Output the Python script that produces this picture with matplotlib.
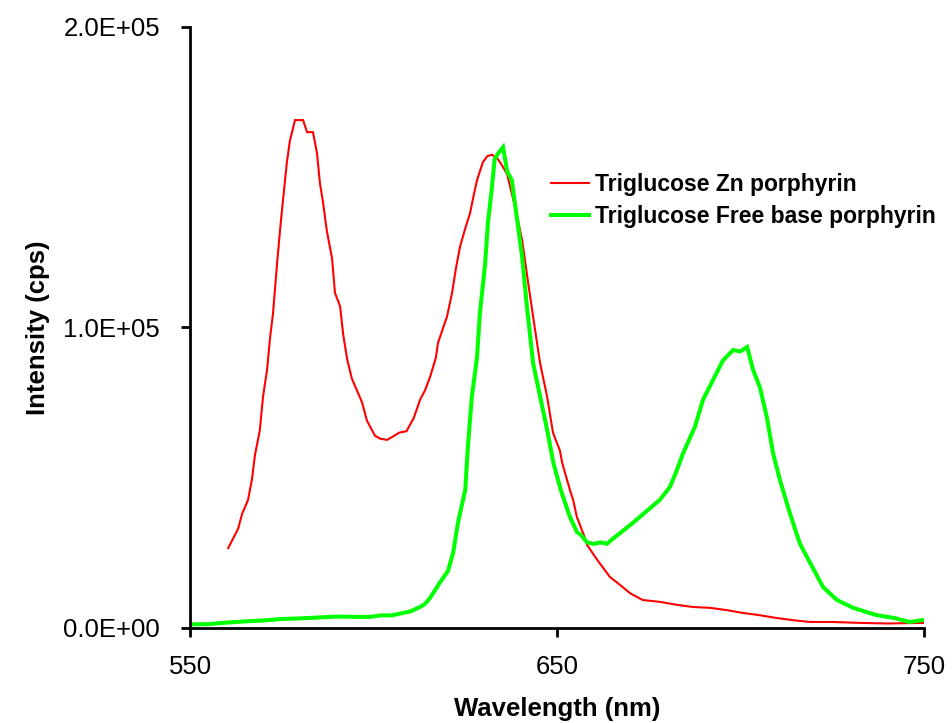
import matplotlib
matplotlib.use("Agg")
import matplotlib.pyplot as plt
from matplotlib.ticker import FixedLocator, FixedFormatter

# Emission spectrum of the Zn porphyrin (wavelength nm, intensity cps)
zn_wavelength = [
    560.4, 563.1, 564.2, 565.8, 566.9, 567.7, 569.0, 569.9, 571.0, 571.8,
    572.6, 573.7, 574.5, 575.3, 576.4, 577.2, 578.6, 580.8, 581.9, 583.5,
    584.6, 585.4, 586.2, 587.3, 588.7, 589.5, 590.9, 591.7, 592.8, 594.1,
    595.5, 596.9, 598.2, 600.4, 601.8, 603.7, 605.0, 607.0, 609.0, 611.0,
    612.7, 614.0, 615.4, 617.0, 617.6, 619.0, 620.0, 621.4, 622.5, 623.6,
    625.0, 626.3, 627.3, 628.2, 629.8, 631.0, 632.3, 633.9, 635.0, 636.4,
    638.0, 639.3, 640.5, 642.0, 643.5, 645.4, 647.3, 648.9, 650.8, 651.4,
    653.5, 654.4, 655.4, 657.6, 658.2, 661.0, 664.4, 667.2, 670.0, 673.4,
    678.0, 682.7, 687.0, 691.7, 696.0, 700.7, 705.0, 710.0, 715.0, 719.0,
    725.0, 732.6, 740.0, 750.0,
]
zn_intensity = [
    26600, 33000, 38000, 42600, 49600, 57600, 65600, 77000, 86000, 96500,
    104500, 121000, 132000, 142000, 155000, 162000, 169000, 169000, 165000, 165000,
    158000, 148000, 142000, 132000, 123000, 111500, 107000, 98000, 89500, 83000,
    79000, 75000, 69000, 64000, 63000, 62600, 63500, 65000, 65500, 70000,
    76000, 79000, 83500, 90000, 95000, 100000, 103500, 111500, 120000, 127000,
    133000, 138000, 144000, 149000, 155000, 157000, 157500, 156000, 154000, 151000,
    143000, 136000, 129000, 116000, 103500, 88000, 77000, 65000, 59000, 55000,
    46000, 42600, 37000, 30000, 27600, 22600, 17000, 14300, 11500, 9300,
    8700, 7700, 7000, 6700, 6000, 5000, 4300, 3300, 2500, 2000,
    2000, 1700, 1500, 1700,
]

# Emission spectrum of the free base porphyrin
fb_wavelength = [
    550.0, 555.0, 560.0, 565.0, 570.0, 575.0, 580.0, 585.0, 590.0, 595.0,
    599.0, 602.0, 605.0, 608.0, 610.0, 612.7, 614.0, 615.4, 617.0, 618.0,
    620.3, 621.7, 623.0, 625.0, 625.7, 626.8, 628.2, 629.0, 630.4, 631.2,
    632.3, 633.0, 634.0, 635.3, 636.4, 637.7, 639.0, 640.5, 641.8, 643.5,
    645.4, 647.3, 649.0, 651.0, 653.5, 655.4, 656.5, 658.2, 660.0, 662.0,
    663.6, 665.0, 667.2, 670.7, 674.5, 678.0, 680.8, 682.5, 684.3, 687.6,
    689.8, 692.5, 695.2, 698.0, 699.9, 701.8, 703.4, 705.3, 707.2, 708.9,
    710.8, 713.5, 716.2, 719.0, 722.5, 726.3, 730.7, 737.0, 742.0, 746.0,
    750.0,
]
fb_intensity = [
    1200, 1300, 1800, 2200, 2500, 3000, 3200, 3500, 3800, 3700,
    3700, 4200, 4200, 5000, 5500, 7000, 8000, 10000, 13000, 15000,
    19000, 25000, 35000, 46000, 60000, 77000, 90000, 105000, 121000, 135000,
    147000, 156000, 158000, 160000, 152000, 149000, 137000, 123500, 107000, 88000,
    77000, 66000, 55000, 46000, 37000, 32000, 31000, 28500, 28000, 28500,
    28000, 29500, 31600, 35000, 39000, 42600, 47000, 52000, 58000, 67000,
    76000, 82500, 89000, 92500, 92000, 93500, 86000, 80000, 70000, 58000,
    49000, 38000, 28000, 21600, 13600, 9300, 6700, 4300, 3300, 2000,
    2700,
]

x_ticks = [550, 650, 750]
x_tick_labels = ["550", "650", "750"]
y_ticks = [0, 100000, 200000]
y_tick_labels = ["0.0E+00", "1.0E+05", "2.0E+05"]

series_labels = ["Triglucose Zn porphyrin", "Triglucose Free base porphyrin"]

plt.rcParams["font.family"] = ["Liberation Sans", "DejaVu Sans"]

fig = plt.figure(figsize=(9.52, 7.23), dpi=100)
ax = fig.add_axes([0.1996, 0.1314, 0.7710, 0.8313])

ax.plot(zn_wavelength, zn_intensity, color="#FF0000", lw=1.5,
        label=series_labels[0], solid_joinstyle="miter")
ax.plot(fb_wavelength, fb_intensity, color="#00FF00", lw=2.9,
        label=series_labels[1], solid_joinstyle="miter")

ax.set_xlim(550, 750)
ax.set_ylim(0, 200000)

ax.xaxis.set_major_locator(FixedLocator(x_ticks))
ax.xaxis.set_major_formatter(FixedFormatter(x_tick_labels))
ax.yaxis.set_major_locator(FixedLocator(y_ticks))
ax.yaxis.set_major_formatter(FixedFormatter(y_tick_labels))

for side in ("top", "right"):
    ax.spines[side].set_visible(False)
for side in ("left", "bottom"):
    ax.spines[side].set_linewidth(2.0)
    ax.spines[side].set_color("black")

ax.tick_params(axis="both", direction="out", length=6.5, width=2.0,
               colors="black", labelsize=18.5)
ax.tick_params(axis="x", pad=13)
ax.tick_params(axis="y", pad=15)

ax.set_xlabel("Wavelength (nm)", fontsize=18.5, fontweight="bold", labelpad=13)
ax.set_ylabel("Intensity (cps)", fontsize=18.5, fontweight="bold", labelpad=10)

leg = ax.legend(loc="upper left", bbox_to_anchor=(0.492, 0.757), frameon=False,
                prop={"weight": "bold", "size": 16.5}, handlelength=1.65,
                handletextpad=0.25, labelspacing=0.38, borderpad=0,
                borderaxespad=0)

fig.savefig("out.png", dpi=100, facecolor="white")
